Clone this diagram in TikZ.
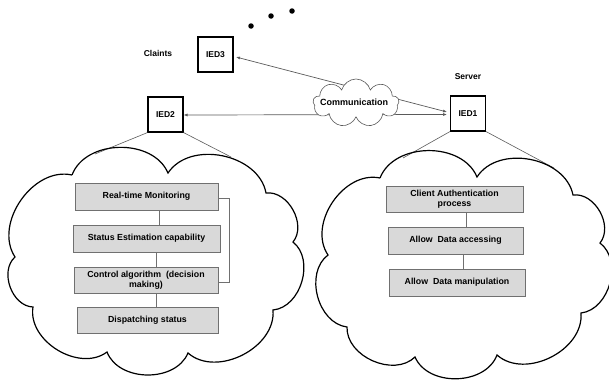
\documentclass[tikz,border=0pt]{standalone}
\usepackage{fontspec}
\setmainfont{Liberation Sans}
\usetikzlibrary{shapes.symbols,arrows.meta,shadows}
\definecolor{boxfill}{HTML}{D9D9D9}
\definecolor{boxline}{HTML}{707070}
\definecolor{linkgray}{HTML}{5A5A5A}
\tikzset{
  lbl/.style={font=\fontsize{8.5}{10}\selectfont\bfseries},
  ied/.style={draw, line width=1.2pt, minimum width=35pt, minimum height=35pt, inner sep=0pt, lbl},
  stepbox/.style={draw=boxline, fill=boxfill, line width=0.9pt, inner sep=0pt, align=center,
    font=\fontsize{8.8}{10.5}\selectfont\bfseries,
    drop shadow={shadow xshift=1.2pt, shadow yshift=-1.2pt, opacity=0.35}},
  cloudline/.style={draw, line width=1.2pt, line join=miter},
  puff/.style={bend left=68, looseness=1.02},
  conn/.style={draw=boxline, line width=0.8pt},
  spoke/.style={draw=linkgray, line width=0.6pt},
  link/.style={draw=linkgray, line width=0.7pt, {Latex[length=4pt,width=3pt]}-{Latex[length=4pt,width=3pt]}},
  dot/.style={circle, fill=black, inner sep=0pt, minimum size=5.5pt}
}
\begin{document}
\begin{tikzpicture}[x=1pt,y=-1pt]
\useasboundingbox (0,0) rectangle (609,380);
% dots
\node[dot] (d1) at (251,26) {};
\node[dot] (d2) at (271,16) {};
\node[dot] (d3) at (292,11) {};
% labels
\node[lbl] (claints) at (158,53) {Claints};
\node[lbl] (server) at (468,77) {Server};
% IED boxes
\node[ied] (ied3) at (215.5,54.5) {IED3};
\node[ied] (ied2) at (165.5,114.5) {IED2};
\node[ied] (ied1) at (468,113.5) {IED1};
% spokes
\coordinate (l1) at (95,154);
\coordinate (l2) at (231,157);
\coordinate (r1) at (403,158);
\coordinate (r2) at (554,168);
\draw[spoke] (ied2.south west) -- (l1);
\draw[spoke] (ied2.south east) -- (l2);
\draw[spoke] (ied1.south west) -- (r1);
\draw[spoke] (ied1.south east) -- (r2);
% big clouds
\draw[cloudline] (72,175) to[puff] (168,173) to[puff] (266,193) to[puff] (293,242)
  to[puff] (273,310) to[puff] (188,353) to[puff] (107,352) to[puff] (33,307)
  to[puff] (15,257) to[puff] (72,175);
\draw[cloudline] (380,178) to[puff] (477,177) to[puff] (573,195) to[puff] (600,243)
  to[puff] (581,313) to[puff] (497,355) to[puff] (415,357) to[puff] (347,327)
  to[puff] (328,255) to[puff] (380,178);
% links
\coordinate (e3) at (236,57);
\coordinate (e1a) at (447,112);
\coordinate (e1b) at (447,114.5);
\coordinate (e2) at (183.5,115);
\draw[link] (e3) -- (e1a);
\draw[link] (e2) -- (e1b);
% communication cloud
\node[cloud, cloud puffs=9, cloud ignores aspect, draw=linkgray, fill=white, line width=0.6pt, minimum width=86pt, minimum height=48pt, inner sep=0pt] (comm) at (356,103) {};
\node[lbl, font=\fontsize{9}{10}\selectfont\bfseries] (commt) at (354,102) {Communication};
% left steps
\node[stepbox, minimum width=143pt, minimum height=27pt] (s1) at (146.5,196.5) {Real-time Monitoring};
\node[stepbox, minimum width=147pt, minimum height=27pt] (s2) at (146.5,238.5) {Status Estimation capability};
\node[stepbox, minimum width=144pt, minimum height=26pt] (s3) at (146,280) {Control algorithm \ (decision\\making)};
\node[stepbox, minimum width=141pt, minimum height=26pt] (s4) at (147.5,320) {Dispatching status};
\draw[conn] (s1.south -| 159,0) -- (s2.north -| 159,0);
\draw[conn] (s2.south -| 156,0) -- (s3.north -| 156,0);
\draw[conn] (s3.south -| 156,0) -- (s4.north -| 156,0);
\draw[conn] (s1.east |- 0,198) -- (229,198) -- (229,282) -- (s3.east |- 0,282);
% right steps
\node[stepbox, minimum width=137pt, minimum height=26pt] (t1) at (454.5,199) {Client Authentication\\process};
\node[stepbox, minimum width=135pt, minimum height=27pt] (t2) at (455.5,240.5) {Allow \ Data accessing};
\node[stepbox, minimum width=136pt, minimum height=27pt] (t3) at (457,282.5) {Allow \ Data manipulation};
\draw[conn] (t1.south -| 466,0) -- (t2.north -| 466,0);
\draw[conn] (t2.south -| 463,0) -- (t3.north -| 463,0);
\end{tikzpicture}
\end{document}
